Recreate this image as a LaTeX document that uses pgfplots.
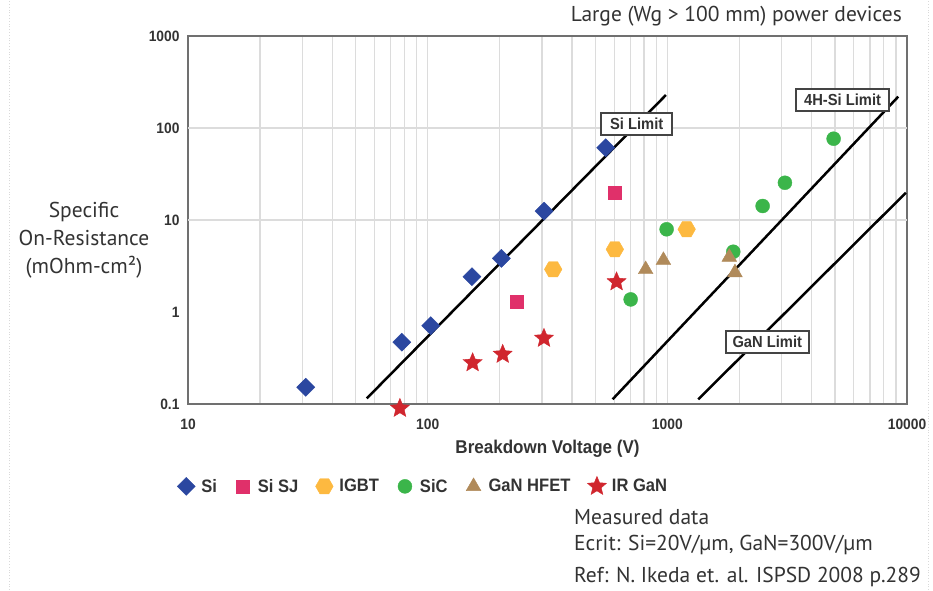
\documentclass[border=0pt]{standalone}
\usepackage{fontspec}
\setmainfont{PT Sans}
\newfontfamily\condb[FakeStretch=0.92]{Liberation Sans Bold}
\usepackage{pgfplots}
\pgfplotsset{compat=1.18}
\definecolor{siblue}{HTML}{2B47A0}
\definecolor{sjpink}{HTML}{E0306A}
\definecolor{igbtc}{HTML}{FDB940}
\definecolor{sicg}{HTML}{3BB54A}
\definecolor{ganb}{HTML}{B08A5A}
\definecolor{irred}{HTML}{D0262E}
\definecolor{gridc}{HTML}{DCDCDC}
\definecolor{framec}{HTML}{707070}
\definecolor{txt}{HTML}{333333}
\definecolor{boxc}{HTML}{444444}

\pgfdeclareplotmark{hexagon*}{%
 \pgfpathmoveto{\pgfpointpolar{0}{\pgfplotmarksize}}%
 \pgfpathlineto{\pgfpointpolar{60}{\pgfplotmarksize}}%
 \pgfpathlineto{\pgfpointpolar{120}{\pgfplotmarksize}}%
 \pgfpathlineto{\pgfpointpolar{180}{\pgfplotmarksize}}%
 \pgfpathlineto{\pgfpointpolar{240}{\pgfplotmarksize}}%
 \pgfpathlineto{\pgfpointpolar{300}{\pgfplotmarksize}}%
 \pgfpathclose\pgfusepathqfillstroke}
\pgfdeclareplotmark{fstar}{%
 \pgfpathmoveto{\pgfpointpolar{90}{\pgfplotmarksize}}%
 \pgfpathlineto{\pgfpointpolar{126}{0.45\pgfplotmarksize}}%
 \pgfpathlineto{\pgfpointpolar{162}{\pgfplotmarksize}}%
 \pgfpathlineto{\pgfpointpolar{198}{0.45\pgfplotmarksize}}%
 \pgfpathlineto{\pgfpointpolar{234}{\pgfplotmarksize}}%
 \pgfpathlineto{\pgfpointpolar{270}{0.45\pgfplotmarksize}}%
 \pgfpathlineto{\pgfpointpolar{306}{\pgfplotmarksize}}%
 \pgfpathlineto{\pgfpointpolar{342}{0.45\pgfplotmarksize}}%
 \pgfpathlineto{\pgfpointpolar{18}{\pgfplotmarksize}}%
 \pgfpathlineto{\pgfpointpolar{54}{0.45\pgfplotmarksize}}%
 \pgfpathclose\pgfusepathqfillstroke}

\begin{document}
\begin{tikzpicture}[x=1pt,y=1pt]
\path[use as bounding box] (0,0) rectangle (933,590);
\draw[gray!30, dotted, line width=0.8pt] (9,0) -- (9,590);
\draw[gray!30, dotted, line width=0.8pt] (928,0) -- (928,590);
\begin{axis}[
  at={(188pt,186pt)}, anchor=south west,
  scale only axis, width=719pt, height=368pt,
  xmode=log, ymode=log,
  xmin=10, xmax=10000, ymin=0.1, ymax=1000,
  xtick={10,100,1000,10000}, xticklabels={10,100,1000,10000},
  ytick={0.1,1,10,100,1000}, yticklabels={0.1,1,10,100,1000},
  minor xtick={20,30,40,50,60,70,80,90,200,300,400,500,600,700,800,900,2000,3000,4000,5000,6000,7000,8000,9000},
  xmajorgrids, xminorgrids,
  extra y ticks={10,100}, extra y tick labels={},
  extra y tick style={ymajorgrids=true},
  grid style={gridc, line width=1.3pt},
  major tick length=0pt, minor tick length=0pt,
  axis line style={framec, line width=2pt},
  tick label style={font=\condb\fontsize{15}{15}\selectfont, text=txt},
  xticklabel style={yshift=-11pt},
  yticklabel style={xshift=-5pt},
  xlabel={Breakdown Voltage (V)},
  xlabel style={font=\condb\fontsize{18.5}{18.5}\selectfont, text=txt, at={(axis description cs:0.5,0)}, anchor=base, yshift=-49pt},
  clip=false,
  legend columns=6,
  legend style={draw=none, fill=none, at={(axis description cs:-0.0153,-0.2228)}, anchor=west, inner sep=0pt,
    font=\condb\fontsize{18}{18}\selectfont, text=txt,
    /tikz/every even column/.append style={column sep=15pt}},
  legend image code/.code={\path[draw=none,fill=none] (0pt,-9pt) rectangle (22pt,9pt); \draw[#1] plot coordinates {(9pt,0pt)};},
]
% limit lines
\addplot[forget plot, black, line width=2.5pt] coordinates {(55.7,0.115) (986,228)};
\addplot[forget plot, black, line width=2.5pt] coordinates {(591,0.1125) (9190,219)};
\addplot[forget plot, black, line width=2.5pt] coordinates {(1346,0.1125) (9895,19.8)};
% data
\addplot[only marks, mark=square*, mark size=6.4pt, mark options={rotate=45, fill=siblue, draw=siblue}]
  coordinates {(31,0.152) (78,0.47) (103,0.71) (153,2.42) (203,3.83) (306,12.5) (553,61)};
\addlegendentry{Si}
\addplot[only marks, mark=square*, mark size=6.5pt, mark options={fill=sjpink, draw=sjpink}]
  coordinates {(604,19.8) (236,1.29)};
\addlegendentry{Si SJ}
\addplot[only marks, mark=hexagon*, mark size=8.8pt, mark options={fill=igbtc, draw=igbtc}]
  coordinates {(334,2.91) (604,4.8) (1204,7.93)};
\addlegendentry{IGBT}
\addplot[only marks, mark=*, mark size=7pt, mark options={fill=sicg, draw=sicg}]
  coordinates {(993,7.93) (703,1.37) (1884,4.52) (2498,14.2) (3095,25.4) (4941,76.5)};
\addlegendentry{SiC}
\addplot[only marks, mark=triangle*, mark size=8.5pt, mark options={fill=ganb, draw=ganb}]
  coordinates {(812,2.9) (963,3.65) (1813,3.95) (1915,2.68)};
\addlegendentry{GaN HFET}
\addplot[only marks, mark=fstar, mark size=10pt, mark options={fill=irred, draw=irred}]
  coordinates {(76.6,0.0898) (154,0.281) (205.6,0.347) (305.7,0.518) (614,2.13)};
\addlegendentry{IR GaN}
% limit labels
\node[draw=boxc, line width=1.6pt, fill=white, minimum width=71pt, minimum height=22pt, inner sep=0pt,
  font=\condb\fontsize{16}{16}\selectfont, text=txt] at (axis cs:745,110) {Si Limit};
\node[draw=boxc, line width=1.6pt, fill=white, minimum width=93pt, minimum height=22pt, inner sep=0pt,
  font=\condb\fontsize{16}{16}\selectfont, text=txt] at (axis cs:5385,201) {4H-Si Limit};
\node[draw=boxc, line width=1.6pt, fill=white, minimum width=83pt, minimum height=22pt, inner sep=0pt,
  font=\condb\fontsize{16}{16}\selectfont, text=txt] at (axis cs:2612,0.475) {GaN Limit};
\end{axis}
\node[align=center, font=\fontsize{21.5}{28}\selectfont, text=txt] at (84,350) {Specific\\On-Resistance\\(mOhm-cm²)};
\node[anchor=east, font=\fontsize{21.5}{21.5}\selectfont, text=txt, inner sep=0pt] at (902,574) {Large (Wg > 100 mm) power devices};
\node[anchor=west, font=\fontsize{21.5}{21.5}\selectfont, text=txt, inner sep=0pt] at (574,73.3) {Measured data};
\node[anchor=west, font=\fontsize{21.5}{21.5}\selectfont, text=txt, inner sep=0pt] at (574,45) {Ecrit: Si=20V/µm, GaN=300V/µm};
\node[anchor=west, font=\fontsize{21.5}{21.5}\selectfont, text=txt, inner sep=0pt] at (574,13.3) {Ref: N. Ikeda et. al. ISPSD 2008 p.289};
\end{tikzpicture}
\end{document}
